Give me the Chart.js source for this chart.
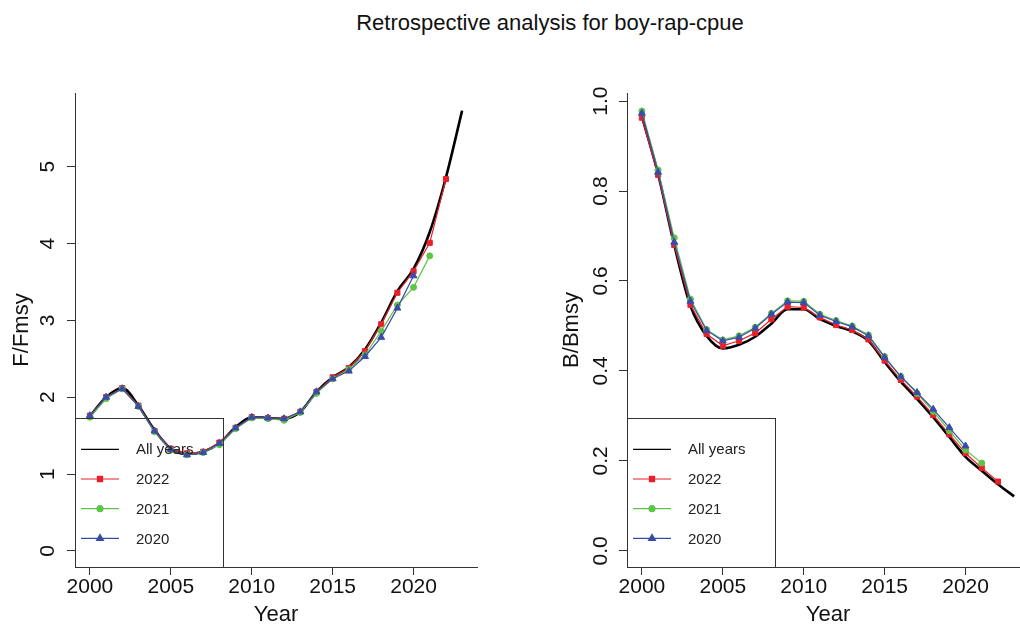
<!DOCTYPE html>
<html>
<head>
<meta charset="utf-8">
<script src="https://cdn.jsdelivr.net/npm/chart.js@4.4.1/dist/chart.umd.min.js"></script>
<style>
  html, body { margin: 0; padding: 0; background: #fff; width: 1020px; height: 630px; overflow: hidden; position: relative; font-family: "Liberation Sans", Arial, sans-serif; }
  #title { position: absolute; left: 0; top: 10px; width: 1100px; text-align: center; font-size: 22px; line-height: 26px; color: #111; }
  canvas { position: absolute; top: 0; }
  #leftChart { left: 0; }
  #rightChart { left: 552px; }
</style>
</head>
<body>
<div id="title">Retrospective analysis for boy-rap-cpue</div>
<canvas id="leftChart" width="500" height="630"></canvas>
<canvas id="rightChart" width="500" height="630"></canvas>
<script>
const years = [2000, 2001, 2002, 2003, 2004, 2005, 2006, 2007, 2008, 2009, 2010, 2011,
               2012, 2013, 2014, 2015, 2016, 2017, 2018, 2019, 2020, 2021, 2022, 2023];
const xTicks = [2000, 2005, 2010, 2015, 2020];
const fTicks = [0, 1, 2, 3, 4, 5];
const bTicks = [0, 0.2, 0.4, 0.6, 0.8, 1.0];
const seriesNames = ["All years", "2022", "2021", "2020"];

// F/Fmsy
const ffAll  = [1.75, 2.00, 2.12, 1.89, 1.57, 1.33, 1.26, 1.29, 1.40, 1.61, 1.74, 1.73,
                1.72, 1.81, 2.07, 2.26, 2.39, 2.62, 2.97, 3.38, 3.67, 4.15, 4.86, 5.73];
const ff2022 = [1.76, 2.00, 2.12, 1.89, 1.56, 1.33, 1.27, 1.29, 1.41, 1.60, 1.74, 1.73,
                1.72, 1.81, 2.07, 2.26, 2.38, 2.60, 2.95, 3.36, 3.64, 4.01, 4.84];
const ff2021 = [1.74, 1.98, 2.11, 1.88, 1.55, 1.31, 1.25, 1.28, 1.38, 1.59, 1.73, 1.72,
                1.70, 1.80, 2.05, 2.24, 2.36, 2.55, 2.86, 3.20, 3.43, 3.84];
const ff2020 = [1.76, 2.00, 2.11, 1.88, 1.56, 1.32, 1.25, 1.28, 1.40, 1.60, 1.74, 1.73,
                1.72, 1.81, 2.07, 2.24, 2.34, 2.53, 2.78, 3.16, 3.58];

// B/Bmsy
const bbAll  = [0.966, 0.838, 0.680, 0.545, 0.478, 0.450, 0.458, 0.476, 0.505, 0.537, 0.537, 0.515,
                0.500, 0.488, 0.467, 0.420, 0.376, 0.338, 0.297, 0.253, 0.209, 0.178, 0.148, 0.121];
const bb2022 = [0.963, 0.836, 0.680, 0.547, 0.482, 0.456, 0.467, 0.484, 0.515, 0.543, 0.541, 0.519,
                0.502, 0.491, 0.470, 0.423, 0.380, 0.343, 0.302, 0.259, 0.217, 0.184, 0.154];
const bb2021 = [0.978, 0.847, 0.696, 0.560, 0.492, 0.469, 0.478, 0.497, 0.528, 0.556, 0.555, 0.526,
                0.512, 0.500, 0.480, 0.432, 0.388, 0.350, 0.310, 0.267, 0.224, 0.195];
const bb2020 = [0.973, 0.842, 0.686, 0.555, 0.490, 0.467, 0.475, 0.495, 0.526, 0.553, 0.552, 0.524,
                0.510, 0.498, 0.478, 0.430, 0.387, 0.352, 0.315, 0.274, 0.233];

const FONT = "'Liberation Sans', Arial, sans-serif";
const AXIS_COLOR = '#333';
const TEXT_COLOR = '#111';

function pairs(vals) {
  return vals.map((v, i) => ({ x: years[i], y: v }));
}

function makeSets(all, s22, s21, s20) {
  return [
    { label: seriesNames[0], data: pairs(all), borderColor: '#000', backgroundColor: '#000',
      borderWidth: 2.6, pointRadius: 0, cubicInterpolationMode: 'monotone', order: 4 },
    { label: seriesNames[1], data: pairs(s22), borderColor: '#e8202a', backgroundColor: '#e8202a',
      borderWidth: 1.2, pointStyle: 'rect', pointRadius: 3.6, pointBorderWidth: 1, order: 3 },
    { label: seriesNames[2], data: pairs(s21), borderColor: '#5fc34a', backgroundColor: '#5fc34a',
      borderWidth: 1.2, pointStyle: 'circle', pointRadius: 3, pointBorderWidth: 1, order: 2 },
    { label: seriesNames[3], data: pairs(s20), borderColor: '#3b4ca6', backgroundColor: '#3b4ca6',
      borderWidth: 1.2, pointStyle: 'triangle', pointRadius: 4, pointBorderWidth: 1, order: 1 },
  ];
}

// legend drawn like R's legend("bottomleft"), transparent box
const boxLegend = {
  id: 'boxLegend',
  afterDatasetsDraw(chart) {
    const { ctx, chartArea } = chart;
    const left = chartArea.left, bottom = chartArea.bottom;
    const w = 148, h = 149, top = bottom - h;
    ctx.save();
    ctx.strokeStyle = AXIS_COLOR;
    ctx.lineWidth = 1;
    ctx.strokeRect(Math.round(left) + 0.5, Math.round(top) + 0.5, w, h);
    ctx.font = "15px " + FONT;
    ctx.textBaseline = 'middle';
    ctx.textAlign = 'left';
    chart.data.datasets.forEach((ds, i) => {
      const y = top + 31.3 + i * 29.7;
      ctx.strokeStyle = ds.borderColor;
      ctx.lineWidth = 1.2;
      ctx.beginPath();
      ctx.moveTo(left + 6, y);
      ctx.lineTo(left + 44, y);
      ctx.stroke();
      if (ds.pointRadius > 0) {
        ctx.fillStyle = ds.backgroundColor;
        Chart.helpers.drawPoint(ctx, { pointStyle: ds.pointStyle, radius: ds.pointRadius, rotation: 0, borderWidth: 1 }, left + 25, y);
      }
      ctx.fillStyle = '#222';
      ctx.fillText(ds.label, left + 61, y + 1);
    });
    ctx.restore();
  }
};

function makeChart(id, datasets, yMin, yMax, yTickVals, yFmt, yTitle, yTickPad, yTitlePad) {
  return new Chart(document.getElementById(id), {
    type: 'line',
    data: { datasets },
    options: {
      responsive: false,
      animation: false,
      layout: { padding: { left: 0, right: 23, top: 93, bottom: 0 } },
      plugins: { legend: { display: false }, tooltip: { enabled: false } },
      scales: {
        x: {
          type: 'linear', min: 1999.08, max: 2023.92, bounds: 'data',
          afterBuildTicks: (s) => { s.ticks = xTicks.map(v => ({ value: v })); },
          afterFit: (s) => { s.height = 63; },
          grid: { display: true, drawOnChartArea: false, drawTicks: true, tickLength: 8, color: AXIS_COLOR },
          border: { display: true, color: AXIS_COLOR, width: 1 },
          ticks: { callback: v => String(v), padding: 0, autoSkip: false, maxRotation: 0,
                   color: TEXT_COLOR, font: { size: 21, family: FONT } },
          title: { display: true, text: 'Year', color: TEXT_COLOR, padding: { top: 0, bottom: 2 },
                   font: { size: 22, family: FONT } }
        },
        y: {
          type: 'linear', min: yMin, max: yMax, bounds: 'data',
          afterBuildTicks: (s) => { s.ticks = yTickVals.map(v => ({ value: v })); },
          afterFit: (s) => { s.width = 75; },
          grid: { display: true, drawOnChartArea: false, drawTicks: true, tickLength: 8, color: AXIS_COLOR },
          border: { display: true, color: AXIS_COLOR, width: 1 },
          ticks: { callback: yFmt, padding: yTickPad, autoSkip: false, minRotation: 90, maxRotation: 90,
                   crossAlign: 'center', color: TEXT_COLOR, font: { size: 21, family: FONT } },
          title: { display: true, text: yTitle, color: TEXT_COLOR, padding: { top: yTitlePad, bottom: 0 },
                   font: { size: 22, family: FONT } }
        }
      }
    },
    plugins: [boxLegend]
  });
}

makeChart('leftChart', makeSets(ffAll, ff2022, ff2021, ff2020),
  -0.21, 5.96, fTicks, v => String(v), 'F/Fmsy', 13, 9);
makeChart('rightChart', makeSets(bbAll, bb2022, bb2021, bb2020),
  -0.036, 1.018, bTicks, v => v.toFixed(1), 'B/Bmsy', 3, 7);
</script>
</body>
</html>
